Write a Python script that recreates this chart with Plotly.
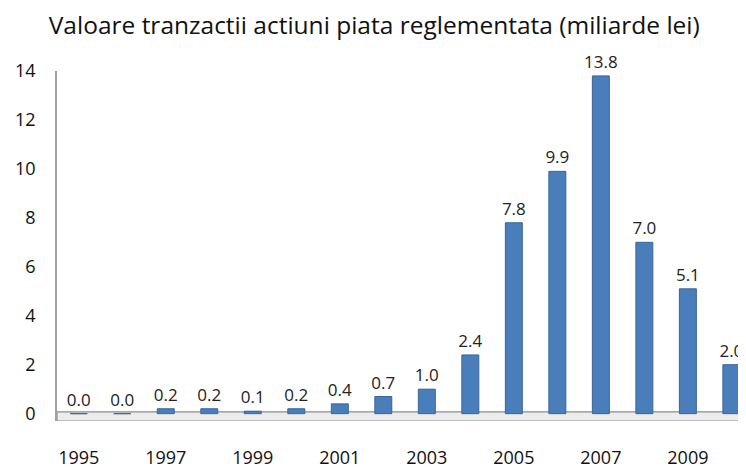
import plotly.graph_objects as go

years = [str(y) for y in range(1995, 2011)]
values = [0.0, 0.0, 0.2, 0.2, 0.1, 0.2, 0.4, 0.7, 1.0, 2.4, 7.8, 9.9, 13.8, 7.0, 5.1, 2.0]
tick_years = [str(y) for y in range(1995, 2011, 2)]

fig = go.Figure()

fig.add_trace(go.Bar(
    x=years, y=values,
    width=0.39,
    marker=dict(color='#4A7EBB', line=dict(color='#38649A', width=1)),
    text=[f'{v:.1f}' for v in values],
    textposition='outside',
    constraintext='none',
    textfont=dict(family='Open Sans', size=17, color='#222'),
    cliponaxis=False,
))

# 3D-style floor
fig.add_shape(type='rect', xref='paper', yref='y', x0=0, x1=1, y0=-0.3, y1=0.07,
              line=dict(color='#8c8c8c', width=1.2), fillcolor='#ececec', layer='below')

fig.update_layout(
    width=746, height=470,
    title=dict(text='Valoare tranzactii actiuni piata reglementata (miliarde lei)',
               x=0.491, xanchor='center', y=0.964, yanchor='middle',
               font=dict(family='Open Sans', size=24.5, color='#111')),
    margin=dict(l=49, r=0, t=63, b=57),
    plot_bgcolor='white', paper_bgcolor='white',
    showlegend=False,
)
fig.update_xaxes(type='category', range=[-0.5, 15.52], tickvals=tick_years, ticktext=tick_years,
                 showgrid=False, showline=False, ticks='', automargin=False,
                 ticklabelstandoff=24,
                 tickfont=dict(family='Open Sans', size=18, color='#111'))
fig.update_yaxes(range=[-0.3, 14], tickvals=[0, 2, 4, 6, 8, 10, 12, 14], showgrid=False, zeroline=False,
                 showline=True, linecolor='#a0a0a0', linewidth=1.5, ticks='',
                 ticklabelstandoff=16, automargin=False,
                 tickfont=dict(family='Open Sans', size=18, color='#111'))

fig.write_html('out.html')
